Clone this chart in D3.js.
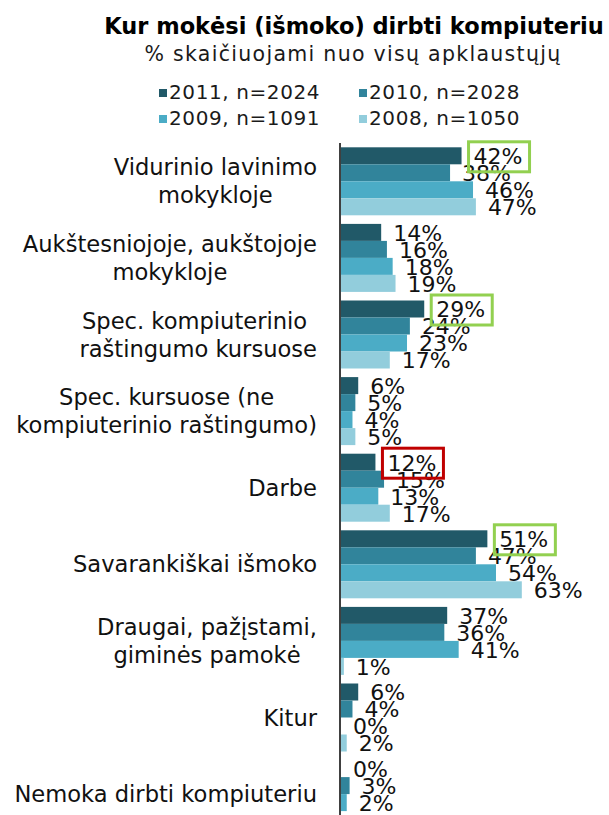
<!DOCTYPE html>
<html>
<head>
<meta charset="utf-8">
<script src="https://cdn.jsdelivr.net/npm/d3@7"></script>
<style>
    html, body { margin: 0; padding: 0; background: #FFFFFF; }
    svg { display: block; font-family: "DejaVu Sans", Verdana, sans-serif; }
</style>
</head>
<body>
<svg id="chart" width="609" height="815"></svg>
<script>
// Survey chart - where respondents learned to use a computer
// Grouped horizontal bars, one group per answer, four survey years

const categories = [
    ['Vidurinio lavinimo', 'mokykloje'],
    ['Aukštesniojoje, aukštojoje', 'mokykloje'],
    ['Spec. kompiuterinio ', 'raštingumo kursuose'],
    ['Spec. kursuose (ne', 'kompiuterinio raštingumo)'],
    ['Darbe'],
    ['Savarankiškai išmoko'],
    ['Draugai, pažįstami,', 'giminės pamokė '],
    ['Kitur'],
    ['Nemoka dirbti kompiuteriu']
];

const seriesNames = ['2011, n=2024', '2010, n=2028', '2009, n=1091', '2008, n=1050'];

const values2011 = [42, 14, 29, 6, 12, 51, 37, 6, 0];
const values2010 = [38, 16, 24, 5, 15, 47, 36, 4, 3];
const values2009 = [46, 18, 23, 4, 13, 54, 41, 0, 2];
const values2008 = [47, 19, 17, 5, 17, 63, 1, 2, null];  // last one is cut off in the source

// 2011 labels that are framed in the source (category index -> frame colour)
const highlightIdx = [0, 2, 4, 5];
const highlightColor = ['#92D050', '#92D050', '#C00000', '#92D050'];

const colors = ['#215968', '#31849B', '#4BACC6', '#92CDDC'];

const svg = d3.select('#chart');

// Title
svg.append('text')
    .attr('x', 354)
    .attr('y', 34)
    .style('font-size', '22.5px')
    .style('font-weight', 'bold')
    .style('fill', '#000000')
    .style('text-anchor', 'middle')
    .text('Kur mokėsi (išmoko) dirbti kompiuteriu');

svg.append('text')
    .attr('x', 353)
    .attr('y', 61)
    .style('font-size', '20.5px')
    .style('letter-spacing', '1.3px')
    .style('fill', '#1A1A1A')
    .style('text-anchor', 'middle')
    .text('% skaičiuojami nuo visų apklaustųjų');

// Legend, two columns
const legend = svg.selectAll('.legend-item')
    .data(seriesNames)
    .enter()
    .append('g')
    .attr('class', 'legend-item')
    .attr('transform', (d, i) => `translate(${i % 2 === 0 ? 159 : 359}, ${i < 2 ? 99 : 125})`);

legend.append('rect')
    .attr('x', 0)
    .attr('y', -10)
    .attr('width', 8)
    .attr('height', 8)
    .style('fill', (d, i) => colors[i]);

legend.append('text')
    .attr('x', 10)
    .attr('y', 0)
    .style('font-size', '20px')
    .style('letter-spacing', '0.6px')
    .style('fill', '#1A1A1A')
    .text(d => d);

// Scales
const axisX = 340;
const step = 76.6;
const chartTop = 143;

const x = d3.scaleLinear()
    .domain([0, 100])
    .range([0, 287]);

const y0 = d3.scaleBand()
    .domain(d3.range(categories.length))
    .range([chartTop, chartTop + step * categories.length]);

const y1 = d3.scaleBand()
    .domain(d3.range(seriesNames.length))
    .range([4.3, step - 4.3]);

const allSeries = [values2011, values2010, values2009, values2008];

// Bars, one group per category
const groups = svg.selectAll('.cat-group')
    .data(categories)
    .enter()
    .append('g')
    .attr('class', 'cat-group')
    .attr('transform', (d, i) => `translate(${axisX + 1}, ${y0(i)})`);

groups.each(function(cat, ci) {
    const g = d3.select(this);
    const rows = allSeries
        .map((s, si) => ({ si: si, v: s[ci] }))
        .filter(d => d.v !== null);

    g.selectAll('rect')
        .data(rows)
        .enter()
        .append('rect')
        .attr('x', 0)
        .attr('y', d => y1(d.si))
        .attr('width', d => x(d.v))
        .attr('height', y1.bandwidth())
        .style('fill', d => colors[d.si]);

    g.selectAll('.value-label')
        .data(rows)
        .enter()
        .append('text')
        .attr('class', 'value-label')
        .attr('x', d => x(d.v) + 12)
        .attr('y', d => y1(d.si) + y1.bandwidth())
        .style('font-size', '22px')
        .style('fill', '#111111')
        .text(d => d.v + '%');
});

// Frames around some of the 2011 values
highlightIdx.forEach((ci, k) => {
    svg.append('rect')
        .attr('x', axisX + 1 + x(values2011[ci]) + 7)
        .attr('y', y0(ci) + y1(0) - 5.5)
        .attr('width', 61)
        .attr('height', 30)
        .style('fill', 'none')
        .style('stroke', highlightColor[k])
        .style('stroke-width', 3);
});

// Vertical axis line
svg.append('line')
    .attr('x1', axisX)
    .attr('x2', axisX)
    .attr('y1', chartTop)
    .attr('y2', chartTop + step * categories.length)
    .style('stroke', '#000000')
    .style('stroke-width', 1.5);

// Category labels: each block centred on its own lines, right edge at 317
const labelRight = 317;
const lineHeight = 28;

svg.selectAll('.cat-label')
    .data(categories)
    .enter()
    .append('text')
    .attr('class', 'cat-label')
    .style('font-size', '22.6px')
    .style('fill', '#111111')
    .style('text-anchor', 'middle')
    .each(function(lines, ci) {
        const t = d3.select(this);
        const cy = y0(ci) + step / 2;
        lines.forEach((line, li) => {
            t.append('tspan')
                .attr('dy', 0)
                .attr('y', cy + 8 + (li - (lines.length - 1) / 2) * lineHeight)
                .text(line);
        });
        // widest line sets the block position
        let maxW = 0;
        t.selectAll('tspan').each(function() {
            maxW = Math.max(maxW, this.getComputedTextLength());
        });
        t.selectAll('tspan').attr('x', labelRight - maxW / 2);
    });
</script>
</body>
</html>
